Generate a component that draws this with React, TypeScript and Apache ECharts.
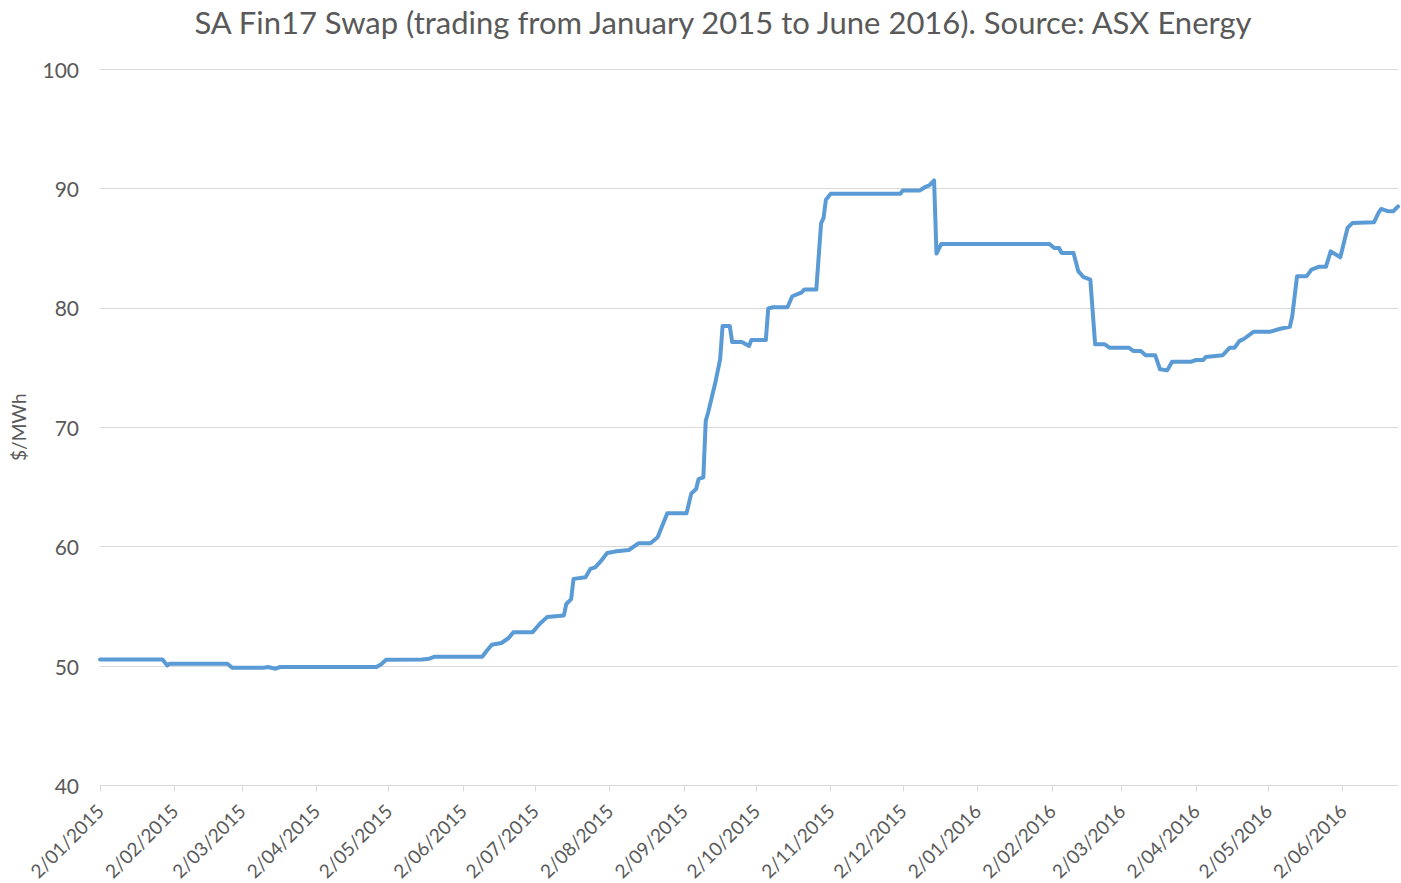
import React, { useEffect, useRef } from "react";
import * as echarts from "echarts";

const START_DATE = "2015-01-02";
const END_DATE = "2016-06-25";

const tradeDates = [
  "2015-01-02", "2015-01-28", "2015-01-30", "2015-01-31", "2015-02-24", "2015-02-26",
  "2015-03-11", "2015-03-13", "2015-03-16", "2015-03-18", "2015-04-27", "2015-04-29",
  "2015-05-01", "2015-05-16", "2015-05-19", "2015-05-21", "2015-06-10", "2015-06-12",
  "2015-06-14", "2015-06-18", "2015-06-21", "2015-06-23", "2015-07-01", "2015-07-04",
  "2015-07-07", "2015-07-14", "2015-07-15", "2015-07-17", "2015-07-18", "2015-07-23",
  "2015-07-25", "2015-07-27", "2015-07-29", "2015-08-01", "2015-08-05", "2015-08-10",
  "2015-08-14", "2015-08-19", "2015-08-22", "2015-08-25", "2015-08-26", "2015-09-03",
  "2015-09-05", "2015-09-07", "2015-09-08", "2015-09-10", "2015-09-11", "2015-09-12",
  "2015-09-15", "2015-09-17", "2015-09-18", "2015-09-21", "2015-09-22", "2015-09-26",
  "2015-09-29", "2015-09-30", "2015-10-06", "2015-10-07", "2015-10-09", "2015-10-15",
  "2015-10-17", "2015-10-21", "2015-10-22", "2015-10-27", "2015-10-29", "2015-10-30",
  "2015-10-31", "2015-11-02", "2015-12-01", "2015-12-02", "2015-12-09", "2015-12-11",
  "2015-12-13", "2015-12-15", "2015-12-16", "2015-12-18", "2016-02-01", "2016-02-03",
  "2016-02-05", "2016-02-06", "2016-02-11", "2016-02-13", "2016-02-15", "2016-02-18",
  "2016-02-20", "2016-02-24", "2016-02-26", "2016-03-05", "2016-03-07", "2016-03-10",
  "2016-03-12", "2016-03-16", "2016-03-18", "2016-03-21", "2016-03-23", "2016-03-31",
  "2016-04-02", "2016-04-05", "2016-04-06", "2016-04-13", "2016-04-16", "2016-04-18",
  "2016-04-20", "2016-04-22", "2016-04-26", "2016-05-03", "2016-05-07", "2016-05-11",
  "2016-05-12", "2016-05-14", "2016-05-18", "2016-05-20", "2016-05-23", "2016-05-26",
  "2016-05-28", "2016-06-01", "2016-06-04", "2016-06-06", "2016-06-15", "2016-06-17",
  "2016-06-18", "2016-06-21", "2016-06-23", "2016-06-25",
];

const swapPrices = [
  50.55, 50.55, 50.05, 50.2, 50.2, 49.86,
  49.86, 49.92, 49.78, 49.92, 49.92, 50.15,
  50.53, 50.55, 50.62, 50.77, 50.78, 51.3,
  51.78, 51.93, 52.35, 52.84, 52.84, 53.54,
  54.1, 54.24, 55.2, 55.6, 57.3, 57.44,
  58.13, 58.27, 58.7, 59.47, 59.61, 59.72,
  60.28, 60.28, 60.78, 62.3, 62.79, 62.79,
  64.46, 64.82, 65.65, 65.8, 70.53, 71.23,
  73.74, 75.7, 78.47, 78.47, 77.13, 77.13,
  76.8, 77.3, 77.3, 79.94, 80.05, 80.05,
  80.97, 81.3, 81.53, 81.53, 87.1, 87.52,
  89.05, 89.55, 89.55, 89.83, 89.83, 90.08,
  90.25, 90.67, 84.54, 85.35, 85.35, 85.01,
  85.01, 84.6, 84.6, 83.07, 82.6, 82.37,
  76.94, 76.94, 76.66, 76.66, 76.38, 76.38,
  76.02, 76.02, 74.85, 74.76, 75.49, 75.49,
  75.63, 75.63, 75.88, 76.02, 76.66, 76.66,
  77.21, 77.41, 78.0, 78.0, 78.25, 78.42,
  79.3, 82.65, 82.65, 83.2, 83.43, 83.43,
  84.73, 84.23, 86.69, 87.1, 87.16, 88.0,
  88.28, 88.08, 88.08, 88.5,
];

const yTicks = [40, 50, 60, 70, 80, 90, 100];

const DAY = 86400000;
const toUTC = (s: string) => {
  const [y, m, d] = s.split("-").map(Number);
  return Date.UTC(y, m - 1, d);
};
const fmt = (t: number) => {
  const dt = new Date(t);
  const d = dt.getUTCDate();
  const m = dt.getUTCMonth() + 1;
  return `${d}/${m < 10 ? "0" + m : m}/${dt.getUTCFullYear()}`;
};

export default function App() {
  const ref = useRef<HTMLDivElement>(null);
  useEffect(() => {
    if (!ref.current) return;
    const chart = echarts.init(ref.current, null, { renderer: "svg" });
    const t0 = toUTC(START_DATE);
    const t1 = toUTC(END_DATE);
    const categories: string[] = [];
    for (let t = t0; t <= t1; t += DAY) categories.push(fmt(t));
    const data = tradeDates.map((s, i) => [Math.round((toUTC(s) - t0) / DAY), swapPrices[i]]);
    const isTick = (_i: number, v: string) => v.startsWith("2/");
    const font = "Lato, 'Open Sans', sans-serif";
    chart.setOption({
      animation: false,
      title: {
        text: "SA Fin17 Swap (trading from January 2015 to June 2016). Source: ASX Energy",
        left: 718,
        top: 1,
        textAlign: "center",
        textStyle: { fontFamily: font, fontSize: 31, fontWeight: "normal", color: "#595959" },
      },
      grid: { left: 100, right: 3, top: 69, bottom: 96, containLabel: false },
      xAxis: {
        type: "category",
        data: categories,
        boundaryGap: false,
        axisLine: { show: true, lineStyle: { color: "#d9d9d9", width: 1 } },
        axisTick: { show: true, interval: isTick, length: 6, lineStyle: { color: "#d9d9d9" } },
        axisLabel: {
          interval: isTick,
          rotate: 45,
          margin: 22,
          fontFamily: font,
          fontSize: 19,
          color: "#595959",
        },
        splitLine: { show: false },
      },
      yAxis: {
        type: "value",
        min: yTicks[0],
        max: yTicks[yTicks.length - 1],
        interval: 10,
        name: "$/MWh",
        nameLocation: "middle",
        nameGap: 72,
        nameTextStyle: { fontFamily: font, fontSize: 19, color: "#595959" },
        axisLine: { show: false },
        axisTick: { show: false },
        axisLabel: { margin: 21, fontFamily: font, fontSize: 21, color: "#595959" },
        splitLine: { show: true, lineStyle: { color: "#d9d9d9", width: 1 } },
      },
      series: [
        {
          type: "line",
          data,
          showSymbol: false,
          symbol: "none",
          lineStyle: { color: "#5B9BD5", width: 4, join: "round", cap: "round" },
          itemStyle: { color: "#5B9BD5" },
        },
      ],
    });
    return () => chart.dispose();
  }, []);
  return (
    <div
      ref={ref}
      style={{ position: "absolute", left: 0, top: 0, width: 1401, height: 883, background: "#fff" }}
    />
  );
}
